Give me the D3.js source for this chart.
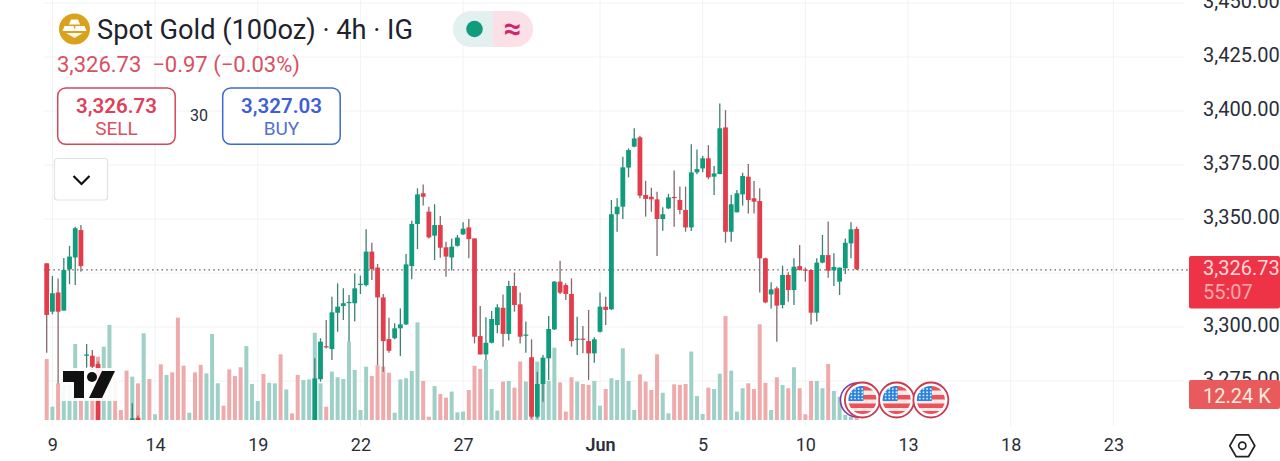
<!DOCTYPE html>
<html><head><meta charset="utf-8">
<script src="https://d3js.org/d3.v7.min.js"></script>
<style>html,body{margin:0;padding:0;background:#fff;overflow:hidden}svg{display:block}text{font-family:Roboto,sans-serif}</style>
</head><body><div id="chart"></div>
<script>
const n5=[null,null,null,null,null];
const n10=[...n5,...n5];
const opens=[3329.5,3307.1,3316,3307.6,3326.7,3332.2,3344.9,3286.7,3286.7,3282.9,
...n5,3248,3258,null,null,null,...n10,...n10,
null,null,null,null,null,null,null,3240,3275.8,3291.1,
3289.8,3306.6,3309.7,3311.2,3311,3319.6,3319.4,3334.9,3327.5,3313.7,
3294.4,3294.8,3299.4,3301.2,3328.2,3347.7,3361.9,3353.4,3342.3,3347.2,
3336.9,3332.2,3337.6,3342.9,3346.1,3341,3295.8,3287.3,3292.7,3300.9,
3308.9,3296.8,3319,3310.5,3296.1,3286,3258.5,3273.6,3285.5,3298.9,
3321,3319.4,3315.3,3294.2,3294.6,3293.5,3287.8,3297.8,3309.4,3308.2,
3352.2,3355.7,3373.8,3383.5,3387.8,3361.1,3360.3,3359.1,3350,3354.9,
3360.2,3358.8,3354.2,3346.1,3371.6,3373.4,3378.1,3369.6,3370.8,3392.4,
3344.1,3353.1,3361.4,3369.6,3359.6,3358.3,3331.8,3315.1,3317.9,3310.2,
3324.1,3317.1,3328.2,3326.6,3326.4,3306.6,3329.8,3333.3,3326.2,3321,
3327.2,3338.7,3345.4];
const highs=[3329.5,3323.6,3322.5,3331.9,3337.6,3346.4,3347.2,3292.1,3289.4,3284,
...n5,3264.7,3259,null,null,null,...n10,...n10,
null,null,null,null,null,null,null,3285.5,3294.8,3303.2,
3314,3320.2,3317.9,3314.8,3324.8,3323.8,3345.2,3339,3329.2,3315.3,
3304.3,3301.7,3308.6,3333.8,3349.2,3364.2,3366,3355.7,3356.8,3351.4,
3339.5,3341,3342.6,3348.5,3350,3341,3309.7,3304.5,3307.4,3310.5,
3315.1,3321.4,3325.2,3316,3302.5,3294.3,3279.3,3287,3305.1,3321.3,
3330.7,3320.2,3322.5,3304.8,3300.5,3307.9,3295.2,3316,3314,3358.8,
3359.6,3378.8,3382.7,3392,3388.4,3367.7,3364.5,3362.6,3355.4,3361.6,
3372.4,3365,3365,3384.6,3382.2,3379.2,3384.2,3374.5,3403.5,3400.4,
3361.1,3363.4,3371.4,3375.5,3367.6,3364.2,3332.1,3320.7,3318.7,3328.4,
3325.3,3331.8,3338,3327.5,3326.4,3331.8,3342.6,3348.8,3334.1,3327.5,
3341,3348.5,3346.4];
const lows=[3288.1,3305.9,3273.9,3307.6,3319.8,3319.4,3325.6,3281.2,3280.1,3252,
...n5,3245,3247,null,null,null,...n10,...n10,
null,null,null,null,null,null,null,3238,3274.7,3290.1,
3284.7,3297.8,3303.2,3293.2,3302.5,3315.3,3318.7,3321.8,3282.4,3279.3,
3288.1,3294.3,3286.6,3300.9,3322.1,3336.1,3356.2,3341,3331,3332.1,
3323.3,3326.1,3337.2,3342.6,3331.8,3292.4,3287.3,3284.7,3292.4,3297.1,
3290.9,3293.7,3307.1,3292.4,3288.1,3257.7,3257.7,3265.4,3275.5,3298.6,
3315.3,3312.5,3290.9,3287,3287.8,3275.5,3283.5,3297.5,3300.9,3307.9,
3344.1,3350,3369.3,3383.2,3359.6,3351.1,3353.4,3332.9,3344.6,3354.6,
3346.4,3352.2,3344.1,3344.4,3370.7,3371.6,3368.4,3361.1,3370.7,3339,
3339.5,3353.1,3356.2,3352.6,3352.6,3316,3311,3308.6,3293.2,3308.6,
3311.7,3310.2,3326.1,3321,3301.2,3302.5,3329.5,3322.8,3319,3314.8,
3324.5,3331.8,3326.4];
const closes=[3305.6,3315.6,3307.1,3326.4,3332.6,3345.7,3328.2,3287.3,3281.6,3255.4,
...n5,3257.7,3250,null,null,null,...n10,...n10,
null,null,null,null,null,null,null,3276.2,3293.2,3290.7,
3306.8,3309.4,3311,3311.6,3317.9,3320,3334.9,3326.8,3313.7,3293.5,
3289,3299.4,3301.2,3329,3347.7,3361.4,3360.3,3341.5,3347.2,3336.7,
3332.6,3337.2,3341.4,3345.5,3340.7,3295.5,3287.3,3292.7,3303.7,3309.1,
3296.8,3319,3310.2,3295.5,3296.5,3258.5,3273.6,3285.8,3299.1,3321,
3315.9,3315.3,3293.5,3294.6,3294.2,3287.8,3294.3,3309.4,3307.9,3352.2,
3355.7,3373.9,3381.9,3387.3,3360.8,3359.3,3359.1,3350,3352.2,3360,
3359.8,3354.2,3346.1,3371.6,3373.1,3378.1,3369.3,3371.1,3392,3344.1,
3356.8,3361.9,3369.9,3358.8,3358,3331.8,3311.4,3317.4,3309.9,3324.1,
3317.1,3327.9,3326.4,3326.2,3306.6,3329.8,3333.3,3326.1,3327.8,3327.5,
3339,3345.2,3326.73];
const volumes=[31.1,6.8,18.7,17.9,17.9,38.8,10.2,10.2,11.9,32.3,
37.4,48.5,21.3,5.1,25.2,22.1,18.7,44.2,20.9,2.9,
28.4,23,24.3,52.2,27.7,3.7,24.3,28.1,23.8,43.9,
18.7,7.3,25.8,22.4,26.9,37.7,18.4,9.7,23.5,19,
18.7,33.5,15.6,3.4,23,20.4,20.7,44.5,18.7,6.8,
24.7,21.8,20.9,40,25.5,5.1,27.2,22.4,28,27.2,
24.1,3.7,20.7,21.3,25,49.8,19.9,1.7,17.3,13.3,
11.4,14.5,3.9,4.3,15.3,27.7,26,30.6,15.8,4.8,
19.6,19.9,16.5,29.8,19.6,22,29.8,20.4,20,36.9,
19.2,4.3,21.8,19.6,18.4,17.9,19.9,7.3,15.8,21.3,
20.4,36.6,19.9,5.1,23.3,19.6,15.3,33.5,13.9,3.4,
18.2,17.9,18.4,34.9,12.2,3.1,16.5,15.8,23.6,53,
25.2,4.3,16.2,18.7,15.8,48.8,19,5.1,21.8,17.9,
16.2,26.9,16.2,2.9,19.9,19.9,16.2,28.6,14.8,11.9,
2.6,1.7,12.24];
// Up/down flag of every volume bar, ten per row
const volDir=["d","u","d","u","u","u","d","u","d","d",
"u","u","d","d","d","u","d","u","d","u",
"d","u","d","d","d","u","d","d","u","u",
"u","d","d","d","d","u","u","u","d","u",
"u","d","u","d","d","u","u","u","u","d",
"u","u","u","u","u","u","u","d","d","d",
"d","u","u","u","u","u","d","d","u","d",
"d","u","u","u","d","d","d","u","u","u",
"d","u","d","d","u","d","u","u","u","u",
"d","d","d","u","d","d","u","u","d","u",
"u","u","u","u","d","d","d","d","u","u",
"d","d","d","u","u","u","d","u","u","d",
"u","u","u","d","d","d","d","u","d","u",
"d","u","d","d","d","u","u","d","u","u",
"u","u","d"];
const priceTicks=[3450,3425,3400,3375,3350,3325,3300,3275];
const labelledPriceTicks=[3450,3425,3400,3375,3350,3300,3275];
const dateTickIndex=[1,19,37,55,73,97,115,133,151,169,187];
const dateTickLabels=["9","14","19","22","27","Jun","5","10","13","18","23"];
const eventIndex=[143,149,155];
const lastPrice=3326.73, priceText="3,326.73", changeText="\u22120.97 (\u22120.03%)", buyText="3,327.03";

const W=1280,H=461, PL=44, PR=1188, PB=420;
const UP="#0f9b7c", DN="#e33d4c", UPW="#3c8172", DNW="#85696d";
const x=d3.scaleLinear().domain([0,142]).range([46.7,856.7]);
const y=d3.scaleLinear().domain([3300,3400]).range([327,111]);
const v=d3.scaleLinear().domain([0,51]).range([PB,PB-100]);
const svg=d3.select("#chart").append("svg").attr("width",W).attr("height",H);
svg.append("rect").attr("width",W).attr("height",H).attr("fill","#fff");
const defs=svg.append("defs");
defs.append("clipPath").attr("id","pane").append("rect").attr("x",PL).attr("y",0).attr("width",PR-PL).attr("height",PB);

// grid
svg.append("g").selectAll("line").data(priceTicks).join("line")
 .attr("x1",PL).attr("x2",PR-4).attr("y1",d=>y(d)).attr("y2",d=>y(d)).attr("stroke","#f1f2f4");
svg.append("g").selectAll("line").data(dateTickIndex).join("line")
 .attr("x1",d=>x(d)).attr("x2",d=>x(d)).attr("y1",0).attr("y2",PB+6).attr("stroke","#f1f2f4");

const pane=svg.append("g").attr("clip-path","url(#pane)");
// volumes
pane.append("g").selectAll("rect").data(volumes).join("rect")
 .attr("x",(d,i)=>x(i)-2).attr("width",4).attr("y",d=>v(d)).attr("height",d=>PB-v(d))
 .attr("fill",(d,i)=>volDir[i]==="u"?"#9fd0c7":"#efabac");
// last price line
pane.append("line").attr("x1",PL).attr("x2",PR).attr("y1",y(lastPrice)+.6).attr("y2",y(lastPrice)+.6)
 .attr("stroke","#6d5a5e").attr("stroke-dasharray","1.5 3.2").attr("stroke-width",1.4);
// candles
const idx=d3.range(opens.length).filter(i=>opens[i]!==null);
const isUp=i=>closes[i]>=opens[i];
pane.append("g").selectAll("line").data(idx).join("line")
 .attr("x1",i=>x(i)).attr("x2",i=>x(i)).attr("y1",i=>y(highs[i])).attr("y2",i=>y(lows[i]))
 .attr("stroke",i=>isUp(i)?UPW:DNW).attr("stroke-width",1.3);
pane.append("g").selectAll("rect").data(idx).join("rect")
 .attr("x",i=>x(i)-2.4).attr("width",4.8)
 .attr("y",i=>y(Math.max(opens[i],closes[i])))
 .attr("height",i=>Math.max(1.2,Math.abs(y(opens[i])-y(closes[i]))))
 .attr("fill",i=>isUp(i)?UP:DN);

// TradingView logo
const logo=svg.append("g").attr("transform","translate(63,371)");
logo.append("rect").attr("x",-3).attr("y",-3).attr("width",58).attr("height",33).attr("fill","#fff").attr("opacity",.9);
logo.append("path").attr("fill","#111").attr("d","M0 0H21V27H11V11H0Z M52 0H39L26 27H39Z");
logo.append("circle").attr("cx",29).attr("cy",6).attr("r",5).attr("fill","#111");

// axes
const yAxis=d3.axisRight(y).tickValues(labelledPriceTicks).tickFormat(d3.format(",.2f")).tickSize(0).tickPadding(0);
const yg=svg.append("g").attr("transform","translate(1203,-2)").call(yAxis);
yg.select(".domain").remove();
yg.selectAll("text").attr("font-size",20).attr("fill","#2a2e39").attr("font-family","Roboto");
const xAxis=d3.axisBottom(x).tickValues(dateTickIndex).tickFormat((d,i)=>dateTickLabels[i]).tickSize(0).tickPadding(0);
const xg=svg.append("g").attr("transform","translate(0,438)").call(xAxis);
xg.select(".domain").remove();
xg.selectAll("text").attr("font-size",18).attr("fill","#2a2e39").attr("font-family","Roboto")
 .attr("font-weight",(d,i)=>dateTickLabels[i]==="Jun"?600:400);

// right labels
svg.append("rect").attr("x",1189).attr("y",256).attr("width",91).attr("height",52.5).attr("rx",2).attr("fill","#ee3347");
svg.append("text").attr("x",1203).attr("y",275).attr("font-size",20).attr("fill","#ffd9da").text(priceText);
svg.append("text").attr("x",1203).attr("y",299).attr("font-size",20).attr("fill","#fbaaab").text("55:07");
svg.append("rect").attr("x",1189).attr("y",380).attr("width",91).attr("height",29).attr("rx",2).attr("fill","#e85a5c");
svg.append("text").attr("x",1203).attr("y",403).attr("font-size",20).attr("fill","#ffeadf").text("12.24 K");
const hexR=12.5, hex=d3.range(6).map(a=>[1242.3+hexR*Math.cos(a*Math.PI/3),445.7+hexR*Math.sin(a*Math.PI/3)]);
svg.append("polygon").attr("points",hex.map(p=>p.join(",")).join(" ")).attr("fill","none").attr("stroke","#222").attr("stroke-width",1.7).attr("stroke-linejoin","round");
svg.append("circle").attr("cx",1242.3).attr("cy",445.7).attr("r",3.6).attr("fill","none").attr("stroke","#222").attr("stroke-width",1.7);

// event flags
defs.append("clipPath").attr("id","flagClip").append("circle").attr("r",14);
svg.append("circle").attr("cx",x(eventIndex[0])-5).attr("cy",400).attr("r",17).attr("fill","#fff").attr("stroke","#7b3aa8").attr("stroke-width",1.6);
eventIndex.forEach(ix=>{
 const g=svg.append("g").attr("transform",`translate(${x(ix)},400)`);
 g.append("circle").attr("r",17.5).attr("fill","#fff").attr("stroke","#c93a52").attr("stroke-width",1.8);
 const f=g.append("g").attr("clip-path","url(#flagClip)");
 f.append("rect").attr("x",-15).attr("y",-15).attr("width",30).attr("height",30).attr("fill","#fbe9e9");
 [[-2,-14,4.5],[-2,-5,4.5],[-15,3.5,4.5],[-15,11,5]].forEach(s=>f.append("rect").attr("x",s[0]).attr("y",s[1]).attr("width",30).attr("height",s[2]).attr("fill","#e8545a"));
 f.append("rect").attr("x",-15).attr("y",-15).attr("width",16).attr("height",16).attr("fill","#2b83dc");
 d3.range(4).forEach(r=>d3.range(4).forEach(c=>f.append("circle").attr("cx",-11+c*3.6).attr("cy",-11+r*3.2).attr("r",.95).attr("fill","#d9ecff")));
});

// header
svg.append("circle").attr("cx",74.5).attr("cy",29).attr("r",15.5).attr("fill","#d8a21c");
svg.append("path").attr("fill","#fff").attr("d","M71 19.5h7l2 5h-11Z M62.5 31l2-5h9l2 5Z M75.5 26h9l2 5h-11l-.5-1Z");
svg.append("path").attr("fill","#fff").attr("opacity",.9).attr("d","M66 33h17l-8.5 5Z");
svg.append("text").attr("x",97).attr("y",38.5).attr("font-size",27.2).attr("fill","#1e222d").text("Spot Gold (100oz) \u00b7 4h \u00b7 IG");
svg.append("path").attr("fill","#e2f1ef").attr("d","M493 11H471a18 18 0 0 0 0 36H493Z");
svg.append("path").attr("fill","#fbe0e8").attr("d","M493 11H515a18 18 0 0 1 0 36H493Z");
svg.append("circle").attr("cx",474.5).attr("cy",29).attr("r",8.3).attr("fill","#0f9b7c");
svg.append("text").attr("x",512.5).attr("y",39).attr("text-anchor","middle").attr("font-size",31).attr("font-weight",700).attr("fill","#d0266a").text("\u2248");
svg.append("text").attr("x",57).attr("y",72).attr("font-size",22).attr("fill","#d9505f").attr("xml:space","preserve").text(priceText+"  "+changeText);

svg.append("rect").attr("x",57.7).attr("y",88).attr("width",117.5).attr("height",56.3).attr("rx",8).attr("fill","#fff").attr("stroke","#d4475c").attr("stroke-width",1.5);
svg.append("text").attr("x",116.5).attr("y",112.5).attr("text-anchor","middle").attr("font-size",20.5).attr("font-weight",600).attr("fill","#e2405a").text(priceText);
svg.append("text").attr("x",116.5).attr("y",135).attr("text-anchor","middle").attr("font-size",19).attr("fill","#d9505f").text("SELL");
svg.append("text").attr("x",199).attr("y",121).attr("text-anchor","middle").attr("font-size",16).attr("fill","#2a2e39").text("30");
svg.append("rect").attr("x",222.7).attr("y",88).attr("width",117.5).attr("height",56.3).attr("rx",8).attr("fill","#fff").attr("stroke","#3b6bd0").attr("stroke-width",1.5);
svg.append("text").attr("x",281.5).attr("y",112.5).attr("text-anchor","middle").attr("font-size",20.5).attr("font-weight",600).attr("fill","#3e5fd6").text(buyText);
svg.append("text").attr("x",281.5).attr("y",135).attr("text-anchor","middle").attr("font-size",19).attr("fill","#5470cf").text("BUY");

svg.append("rect").attr("x",54.5).attr("y",158.5).attr("width",53).attr("height",41.5).attr("rx",3).attr("fill","#fff").attr("stroke","#e0e3eb").attr("stroke-width",1.2);
svg.append("path").attr("d","M73.5 176L81.5 184L89.5 176").attr("fill","none").attr("stroke","#111").attr("stroke-width",2.2);
</script></body></html>
